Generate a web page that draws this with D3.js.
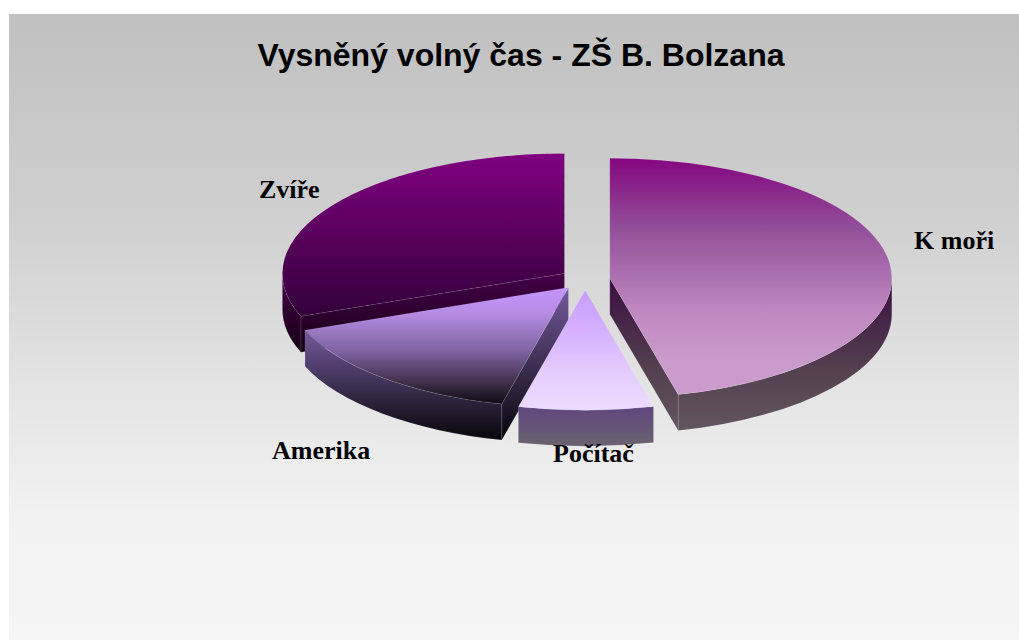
<!DOCTYPE html>
<html>
<head>
<meta charset="utf-8">
<title>Vysněný volný čas</title>
<script src="https://cdn.jsdelivr.net/npm/d3@7"></script>
<style>
html, body { margin: 0; padding: 0; background: #fff; overflow: hidden; }
svg { display: block; }
.title { font: bold 32px "Liberation Sans", Arial, sans-serif; fill: #000; }
.label { font: bold 26px "Liberation Serif", "Times New Roman", serif; fill: #000; }
</style>
</head>
<body>
<svg id="chart" width="1019" height="640"></svg>
<script>
var titleText = "Vysněný volný čas - ZŠ B. Bolzana";
var categories = ["K moři", "Počítač", "Amerika", "Zvíře"];
var values = [46.1, 7.7, 15.4, 30.8];

// gradient stops per slice, [offset, colour]
var topStops = [
  [[0, "#84067f"], [0.3, "#93509a"], [0.65, "#c088c0"], [0.85, "#ca9acb"], [1, "#cc9ccc"]],
  [[0, "#c89cff"], [0.3, "#d4aeff"], [0.75, "#e6d0ff"], [1, "#ecdcff"]],
  [[0, "#c496ff"], [0.22, "#b68ce4"], [0.55, "#7e62a0"], [0.85, "#38283f"], [1, "#0e0812"]],
  [[0, "#800080"], [1, "#33003a"]]
];
var sideStops = [
  [[0, "#3a0f42"], [0.6, "#54404f"], [1, "#62565f"]],
  [[0, "#5f477f"], [1, "#6b6270"]],
  [[0, "#735a9c"], [1, "#08050a"]],
  [[0, "#46004a"], [1, "#140014"]]
];
var bgStops = [[0, "#c0c0c0"], [0.32, "#cfcfcf"], [0.6, "#e4e4e4"], [0.8, "#f2f2f2"], [1, "#f5f5f5"]];

var labelPos = [[914, 249], [553, 462], [272, 459], [259, 198]];

var RX = 282, RY = 120, DEPTH = 36, EXPLODE = 25;
var CX = 585, CY = 279.5;
var k = RY / RX;

var svg = d3.select("#chart");
var defs = svg.append("defs");

function addGradient(id, stops) {
  var g = defs.append("linearGradient").attr("id", id)
    .attr("x1", 0).attr("y1", 0).attr("x2", 0).attr("y2", 1);
  stops.forEach(function(s) {
    g.append("stop").attr("offset", s[0]).attr("stop-color", s[1]);
  });
}

addGradient("bg", bgStops);
categories.forEach(function(c, i) {
  addGradient("top" + i, topStops[i]);
  addGradient("side" + i, sideStops[i]);
});

svg.append("rect")
  .attr("x", 9).attr("y", 14)
  .attr("width", 1010).attr("height", 626)
  .attr("fill", "url(#bg)");

svg.append("text")
  .attr("class", "title")
  .attr("x", 521).attr("y", 66)
  .attr("text-anchor", "middle")
  .text(titleText);

var pie = d3.pie().sort(null);
var arcs = pie(values);
var arc = d3.arc().innerRadius(0).outerRadius(RX);

function rimPoint(c, a) {
  return [c[0] + RX * Math.sin(a), c[1] - RY * Math.cos(a)];
}

function sliceCenter(d) {
  var mid = (d.startAngle + d.endAngle) / 2;
  return [CX + EXPLODE * Math.sin(mid), CY - EXPLODE * k * Math.cos(mid)];
}

// curved part of the wall, only the front half of the ellipse is seen
function wallPath(c, a0, a1) {
  var p0 = rimPoint(c, a0), p1 = rimPoint(c, a1);
  return "M" + p0 + "A" + RX + "," + RY + " 0 0 1 " + p1 +
    "L" + p1[0] + "," + (p1[1] + DEPTH) +
    "A" + RX + "," + RY + " 0 0 0 " + p0[0] + "," + (p0[1] + DEPTH) + "Z";
}

function cutPath(c, a) {
  var p = rimPoint(c, a);
  return "M" + c + "L" + p + "L" + p[0] + "," + (p[1] + DEPTH) +
    "L" + c[0] + "," + (c[1] + DEPTH) + "Z";
}

// back to front
var order = [3, 0, 2, 1];

order.forEach(function(i) {
  var d = arcs[i], c = sliceCenter(d);
  var g = svg.append("g").attr("class", "slice");
  var fillSide = "url(#side" + i + ")";
  var edge = "rgba(255,255,255,0.16)";

  if (d.startAngle > Math.PI && d.startAngle < 2 * Math.PI) {
    g.append("path").attr("d", cutPath(c, d.startAngle)).attr("fill", fillSide).attr("stroke", edge).attr("stroke-width", 0.6);
  }
  if (d.endAngle > 0 && d.endAngle < Math.PI) {
    g.append("path").attr("d", cutPath(c, d.endAngle)).attr("fill", fillSide).attr("stroke", edge).attr("stroke-width", 0.6);
  }
  var a0 = Math.max(d.startAngle, Math.PI / 2), a1 = Math.min(d.endAngle, 1.5 * Math.PI);
  if (a1 > a0) {
    g.append("path").attr("d", wallPath(c, a0, a1)).attr("fill", fillSide).attr("stroke", edge).attr("stroke-width", 0.6);
  }
  g.append("path")
    .attr("transform", "translate(" + c[0] + "," + c[1] + ") scale(1," + k + ")")
    .attr("d", arc(d))
    .attr("fill", "url(#top" + i + ")")
    .attr("stroke", edge)
    .attr("stroke-width", 0.6)
    .attr("stroke-dasharray", i === 3 ? "7,3" : null)
    .attr("vector-effect", "non-scaling-stroke");
});

svg.selectAll(".label")
  .data(categories)
  .enter().append("text")
  .attr("class", "label")
  .attr("x", function(d, i) { return labelPos[i][0]; })
  .attr("y", function(d, i) { return labelPos[i][1]; })
  .text(function(d) { return d; });
</script>
</body>
</html>
